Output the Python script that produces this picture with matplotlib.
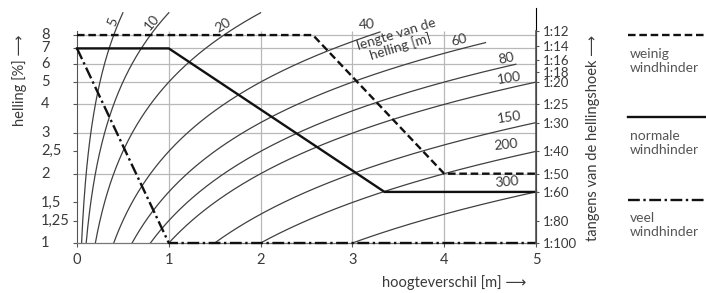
import numpy as np
import matplotlib
matplotlib.use("Agg")
import matplotlib.pyplot as plt
from matplotlib.lines import Line2D
from matplotlib.transforms import blended_transform_factory

plt.rcParams['font.family'] = ['Lato', 'DejaVu Sans']

# ---- data ----
lengths = [5, 10, 20, 40, 60, 80, 100, 150, 200, 300]          # lengte van de helling [m]
curve_end_h = [0.5, 1.0, 2.0, 3.3, 4.45, 4.78, 5, 5, 5, 5]      # where each curve stops [m]
curve_labels = ["5", "10", "20", "40", "60", "80", "100", "150", "200", "300"]
label_x = [0.39, 0.815, 1.59, 3.16, 4.16, 4.68, 4.71, 4.71, 4.67, 4.68]
label_y = [9.1, 9.1, 8.85, 8.85, 7.6, 6.36, 5.2, 3.53, 2.66, 1.84]
label_rot = [70, 50, 32, 3, 15, 12, 9, 8, 6, 5]

weinig_x = [0, 2.57, 4.0, 5.0]
weinig_y = [8, 8, 2, 2]
normale_x = [0, 1.0, 3.35, 5.0]
normale_y = [7, 7, 100 / 60, 100 / 60]
veel_x = [0, 1.0, 5.0]
veel_y = [7, 1, 1]

left_ticks = [1, 1.25, 1.5, 2, 2.5, 3, 4, 5, 6, 7, 8]
left_ticklabels = ["1", "1,25", "1,5", "2", "2,5", "3", "4", "5", "6", "7", "8"]
right_n = [12, 14, 16, 18, 20, 25, 30, 40, 50, 60, 80, 100]
x_ticks = [0, 1, 2, 3, 4, 5]
hgrid = [2, 3, 4, 5, 6, 7, 8]
vgrid = [1, 2, 3, 4]

W, H = 706, 293
fig = plt.figure(figsize=(W / 100, H / 100), dpi=100)
ax = fig.add_axes([77 / W, 1 - 243 / H, (536 - 77) / W, (243 - 8) / H])
ax.set_yscale('log')
ax.set_xlim(0, 5)
ax.set_ylim(1, np.exp(2.35))

txt = '#3a3a3a'
gridc = '#b8b8b8'
curvec = '#404040'

# grid
ax.hlines(hgrid, 0, 5, color=gridc, lw=0.9, zorder=1)
ax.vlines(vgrid, 1, 8.3, color=gridc, lw=0.9, zorder=1)

# curves: helling [%] = 100 * hoogteverschil / lengte
for L, he, lab, lx, ly, rot in zip(lengths, curve_end_h, curve_labels, label_x, label_y, label_rot):
    h = np.linspace(L / 100, he, 300)
    ax.plot(h, 100 * h / L, color=curvec, lw=0.9, zorder=2, clip_on=False)
    ax.text(lx, ly, lab, rotation=rot, color=txt, fontsize=10, ha='center', va='center',
            rotation_mode='anchor')

ax.text(3.5, 7.55, "lengte van de\nhelling [m]", rotation=17, color=txt, fontsize=10,
        ha='center', va='center', rotation_mode='anchor', linespacing=1.0)

# windhinder lines
ax.plot(weinig_x, weinig_y, color='#111', lw=1.7, linestyle=(0, (3.2, 1.6)), zorder=4,
        clip_on=False)
ax.plot(normale_x, normale_y, color='#111', lw=1.7, zorder=4, clip_on=False)
ax.plot(veel_x, veel_y, color='#111', lw=1.7, linestyle=(0, (5, 1.5, 1, 1.5)), zorder=4,
        clip_on=False)

# spines
ax.spines['top'].set_visible(False)
ax.spines['left'].set_bounds(1, 8.3)
ax.spines['left'].set_color('#555')
ax.spines['bottom'].set_color('#777')
ax.spines['bottom'].set_linewidth(0.9)

ax.set_yticks(left_ticks)
ax.set_yticklabels([])
ax.yaxis.set_minor_locator(matplotlib.ticker.NullLocator())
ax.tick_params(axis='y', length=3, color='#555')
tr = blended_transform_factory(fig.transFigure, ax.transData)
for t, lab in zip(left_ticks, left_ticklabels):
    ax.text(41 / W, t, lab, transform=tr, ha='left', va='center', fontsize=10.5, color=txt)

ax.set_xticks(x_ticks)
ax.set_xticklabels([str(v) for v in x_ticks], fontsize=10.5, color=txt)
ax.tick_params(axis='x', length=3, color='#555', pad=4)

# right axis
ax2 = ax.twinx()
ax2.set_yscale('log')
ax2.set_ylim(ax.get_ylim())
ax2.set_yticks([100 / n for n in right_n])
ax2.set_yticklabels([f"1:{n}" for n in right_n], fontsize=9.5, color=txt)
ax2.yaxis.set_minor_locator(matplotlib.ticker.NullLocator())
ax2.tick_params(axis='y', length=2, pad=3, color='#555')
ax2.spines['right'].set_bounds(1, 100 / 12)
ax2.spines['right'].set_color('#555')
ax2.spines['right'].set_linewidth(1.2)
for s in ['top', 'left', 'bottom']:
    ax2.spines[s].set_visible(False)

# axis labels
fig.text(20 / W, 1 - 80 / H, "helling [%] \u27f6", rotation=90, ha='center', va='center',
         fontsize=10.5, color=txt)
fig.text(593 / W, 1 - 138 / H, "tangens van de hellingshoek \u27f6", rotation=90,
         ha='center', va='center', fontsize=10.5, color=txt)
fig.text(454 / W, 1 - 283 / H, "hoogteverschil [m] \u27f6", ha='center', va='center',
         fontsize=10.5, color=txt)

# legend
leg_items = [
    ((0, (3.2, 1.6)), 35, "weinig\nwindhinder", 61),
    ('-', 117, "normale\nwindhinder", 143),
    ((0, (5, 1.5, 1, 1.5)), 200, "veel\nwindhinder", 225),
]
for ls, ly, label, ty in leg_items:
    fig.add_artist(Line2D([628 / W, 705 / W], [1 - ly / H] * 2, transform=fig.transFigure,
                          color='#111', lw=1.7, linestyle=ls))
    fig.text(630 / W, 1 - ty / H, label, ha='left', va='center', fontsize=10,
             color='#555', linespacing=1.25)

fig.savefig("out.png", dpi=100)
